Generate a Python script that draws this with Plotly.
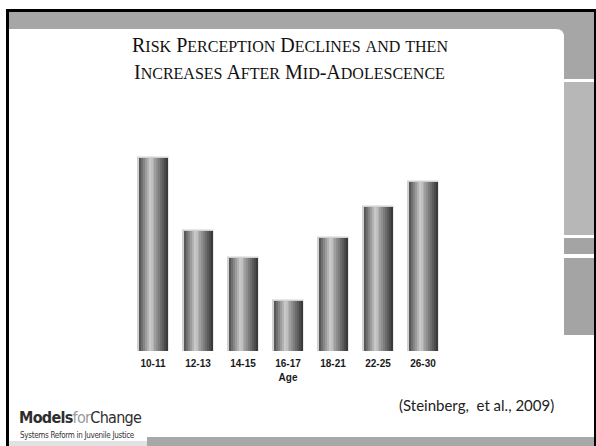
import plotly.graph_objects as go

# Risk perception by age group (Steinberg et al., 2009), arbitrary score units
age_groups = ["10-11", "12-13", "14-15", "16-17", "18-21", "22-25", "26-30"]
risk_perception = [3.86, 2.40, 1.86, 1.00, 2.26, 2.88, 3.38]

title_lines = ["Risk Perception Declines and then", "Increases After Mid-Adolescence"]
x_title = "Age"
citation = "(Steinberg,  et al., 2009)"

W, H = 596, 446
BAR_W = 0.66
N_STRIPS = 15


def px(x):
    return x / W


def py(y):
    return 1 - y / H


def shade(t):
    # cylinder-like grey profile across the bar width
    stops = [(0.0, 75), (0.08, 105), (0.38, 205), (0.7, 125), (1.0, 50)]
    for (t0, v0), (t1, v1) in zip(stops, stops[1:]):
        if t0 <= t <= t1:
            v = v0 + (v1 - v0) * (t - t0) / (t1 - t0)
            v = int(round(v))
            return f"rgb({v},{v},{v})"
    return "rgb(60,60,60)"


def small_caps(text, small=16):
    out = []
    for ch in text:
        if ch.islower():
            out.append(f'<span style="font-size:{small}px">{ch.upper()}</span>')
        else:
            out.append(ch)
    return "".join(out)


fig = go.Figure()

# light halo around each bar
fig.add_trace(go.Bar(
    x=age_groups, y=risk_perception, width=BAR_W,
    marker=dict(color="white", line=dict(color="#d2d2d2", width=2.5)),
    hoverinfo="skip", showlegend=False,
))

# vertical strips give each bar its shaded, rounded look
step = BAR_W / N_STRIPS
for i in range(N_STRIPS):
    t = (i + 0.5) / N_STRIPS
    fig.add_trace(go.Bar(
        x=age_groups, y=risk_perception,
        width=[step * 1.05] * len(age_groups),
        offset=[-BAR_W / 2 + i * step] * len(age_groups),
        marker=dict(color=shade(t), line=dict(width=0)),
        hoverinfo="skip", showlegend=False,
    ))

shapes = []


def rect(x0, y0, x1, y1, color):
    shapes.append(dict(type="rect", xref="paper", yref="paper",
                       x0=px(x0), x1=px(x1), y0=py(y1), y1=py(y0),
                       fillcolor=color, line=dict(width=0), layer="below"))


# slide frame
rect(9, 12, 594, 79, "#a6a6a6")           # top band + upper tab
rect(564, 79, 594, 82, "#ffffff")
rect(564, 82, 594, 235, "#b7b7b7")
rect(564, 238, 594, 254, "#a4a4a4")
rect(564, 258, 594, 335, "#a4a4a4")
rect(147, 437, 594, 446, "#a8a8a8")       # bottom band
rect(9, 441, 147, 446, "#e2e2e2")
rect(6, 9, 596, 12, "#000000")             # black outline
rect(6, 9, 9, 446, "#000000")
rect(594, 9, 596, 446, "#000000")

# white content panel with a rounded top-right corner
r = 8
x0, y0, x1 = 9, 29, 564
path = (f"M {px(x0)},{py(y0)} L {px(x1 - r)},{py(y0)} "
        f"Q {px(x1)},{py(y0)} {px(x1)},{py(y0 + r)} "
        f"L {px(x1)},{py(79)} L {px(x0)},{py(79)} Z")
shapes.append(dict(type="path", xref="paper", yref="paper", path=path,
                   fillcolor="#ffffff", line=dict(width=0), layer="below"))

serif = "Liberation Serif, Times New Roman, serif"
narrow = "DejaVu Sans, sans-serif"

annotations = [
    dict(text=small_caps(title_lines[0]), x=px(290), y=py(45),
         xref="paper", yref="paper", showarrow=False,
         xanchor="center", yanchor="middle",
         font=dict(family=serif, size=20, color="#111111")),
    dict(text=small_caps(title_lines[1]), x=px(289), y=py(72),
         xref="paper", yref="paper", showarrow=False,
         xanchor="center", yanchor="middle",
         font=dict(family=serif, size=20, color="#111111")),
    dict(text=citation, x=px(397), y=py(405),
         xref="paper", yref="paper", showarrow=False,
         xanchor="left", yanchor="middle",
         font=dict(family="Lato, Open Sans, sans-serif", size=15, color="#222222")),
    dict(text='<span style="font-stretch:condensed;letter-spacing:-0.7px">'
              '<b>Models</b><span style="color:#9a9a9a">for</span>Change</span>',
         x=px(17), y=py(417), xref="paper", yref="paper", showarrow=False,
         xanchor="left", yanchor="middle",
         font=dict(family=narrow, size=16, color="#2e2e2e")),
    dict(text='<span style="font-stretch:condensed;letter-spacing:-0.3px">'
              'Systems Reform in Juvenile Justice</span>',
         x=px(18), y=py(435), xref="paper", yref="paper", showarrow=False,
         xanchor="left", yanchor="middle",
         font=dict(family=narrow, size=8, color="#333333")),
]

fig.update_layout(
    width=W, height=H, autosize=False,
    margin=dict(l=0, r=0, t=0, b=0),
    paper_bgcolor="white", plot_bgcolor="rgba(0,0,0,0)",
    barmode="overlay", bargap=0,
    showlegend=False,
    shapes=shapes, annotations=annotations,
    xaxis=dict(
        type="category",
        domain=[px(130.5), px(445.5)],
        range=[-0.5, 6.5],
        showgrid=False, zeroline=False, showline=False,
        ticks="outside", ticklen=3, tickcolor="rgba(0,0,0,0)",
        tickfont=dict(family="Liberation Sans, Arial, sans-serif", size=10, color="#1a1a1a", weight="bold"),
        title=dict(text=x_title, standoff=5,
                   font=dict(family="Liberation Sans, Arial, sans-serif", size=10, color="#1a1a1a", weight="bold")),
        fixedrange=True,
    ),
    yaxis=dict(
        domain=[py(351), py(150)],
        range=[0, 4.02],
        visible=False, fixedrange=True,
    ),
)

fig.write_html("out.html")
